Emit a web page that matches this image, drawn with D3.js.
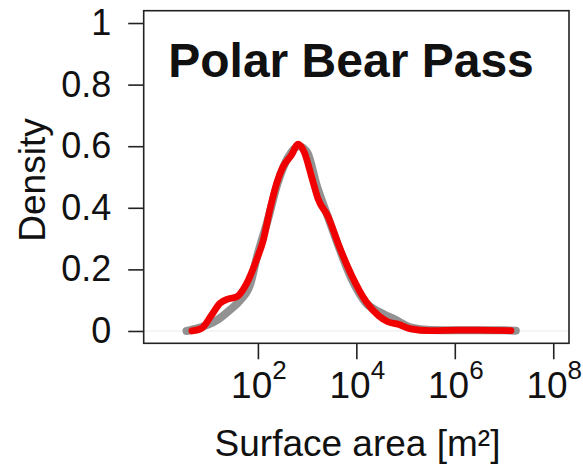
<!DOCTYPE html>
<html>
<head>
<meta charset="utf-8">
<script src="https://cdn.jsdelivr.net/npm/d3@7"></script>
<style>
  html, body { margin: 0; padding: 0; background: #fff; }
  svg { display: block; }
  text { font-family: "Liberation Sans", Arial, Helvetica, sans-serif; fill: #111; }
</style>
</head>
<body>
<svg id="chart" width="583" height="466"></svg>
<script>
// Kernel density of surface area (log10 m²), observed vs. modelled
const observedLogArea = [0.66, 0.86, 1.06, 1.23, 1.40, 1.57, 1.77, 1.97, 2.11, 2.24, 2.38, 2.51, 2.68, 2.82, 2.95, 3.09, 3.22, 3.43, 3.65, 3.90, 4.20, 4.45, 4.64, 4.85, 5.10, 5.50, 6.03, 6.50, 7.14];
const observedDensity = [0.000, 0.009, 0.052, 0.090, 0.104, 0.111, 0.154, 0.230, 0.295, 0.392, 0.479, 0.533, 0.571, 0.607, 0.577, 0.501, 0.430, 0.370, 0.275, 0.182, 0.095, 0.050, 0.030, 0.022, 0.007, 0.001, 0.003, 0.003, 0.001];

const modelLogArea = [0.55, 0.80, 1.17, 1.43, 1.64, 1.84, 1.98, 2.20, 2.40, 2.60, 2.83, 3.00, 3.20, 3.40, 3.65, 3.90, 4.20, 4.47, 4.80, 5.10, 5.50, 6.00, 6.50, 7.00, 7.24];
const modelDensity = [0.000, 0.010, 0.035, 0.068, 0.100, 0.150, 0.240, 0.360, 0.480, 0.560, 0.600, 0.580, 0.470, 0.380, 0.270, 0.170, 0.090, 0.062, 0.036, 0.012, 0.003, 0.002, 0.002, 0.002, 0.001];

const xTickExponents = [2, 4, 6, 8];
const yTickValues = [0, 0.2, 0.4, 0.6, 0.8, 1];
const yTickLabels = ["0", "0.2", "0.4", "0.6", "0.8", "1"];

const titleText = "Polar Bear Pass";
const yTitle = "Density";

const svg = d3.select("#chart");
const box = { left: 143.7, right: 569, top: 10.7, bottom: 343.3 };

// xlim 1..1e8 and ylim 0..1, each padded by 4%
const xPad = 0.04 * 8;
const x = d3.scaleLog()
  .domain([Math.pow(10, 0 - xPad), Math.pow(10, 8 + xPad)])
  .range([box.left, box.right]);
const y = d3.scaleLinear()
  .domain([-0.04, 1.04])
  .range([box.bottom, box.top]);

// faint zero reference
svg.append("line")
  .attr("x1", box.left).attr("x2", box.right)
  .attr("y1", y(0)).attr("y2", y(0))
  .attr("stroke", "#ececec").attr("stroke-width", 1.2);

const line = d3.line()
  .x(d => x(Math.pow(10, d[0])))
  .y(d => y(d[1]))
  .curve(d3.curveMonotoneX);

const modelPts = d3.zip(modelLogArea, modelDensity);
const obsPts = d3.zip(observedLogArea, observedDensity);

svg.append("path")
  .attr("d", line(modelPts))
  .attr("fill", "none")
  .attr("stroke", "#7f7f7f")
  .attr("stroke-opacity", 0.85)
  .attr("stroke-width", 8)
  .attr("stroke-linecap", "round")
  .attr("stroke-linejoin", "round");

svg.append("path")
  .attr("d", line(obsPts))
  .attr("fill", "none")
  .attr("stroke", "#f00000")
  .attr("stroke-width", 6.8)
  .attr("stroke-linecap", "round")
  .attr("stroke-linejoin", "round");

// plot frame
svg.append("rect")
  .attr("x", box.left).attr("y", box.top)
  .attr("width", box.right - box.left).attr("height", box.bottom - box.top)
  .attr("fill", "none").attr("stroke", "#222").attr("stroke-width", 1.6);

// y axis
const yAxis = d3.axisLeft(y)
  .tickValues(yTickValues)
  .tickSize(15.5)
  .tickPadding(17)
  .tickFormat((d, i) => yTickLabels[i]);
const gy = svg.append("g")
  .attr("transform", `translate(${box.left},0)`)
  .call(yAxis);
gy.select(".domain").remove();
gy.selectAll(".tick line").attr("stroke", "#222").attr("stroke-width", 1.6);
gy.selectAll(".tick text")
  .attr("font-size", 36)
  .attr("fill", "#111")
  .style("font-family", '"Liberation Sans", Arial, sans-serif');

// x axis
const xAxis = d3.axisBottom(x)
  .tickValues(xTickExponents.map(e => Math.pow(10, e)))
  .tickSize(16)
  .tickFormat("");
const gx = svg.append("g")
  .attr("transform", `translate(0,${box.bottom})`)
  .call(xAxis);
gx.select(".domain").remove();
gx.selectAll(".tick line").attr("stroke", "#222").attr("stroke-width", 1.6);

const xl = svg.append("g").selectAll("text")
  .data(xTickExponents)
  .join("text")
  .attr("x", d => x(Math.pow(10, d)) + 1)
  .attr("y", 398)
  .attr("text-anchor", "middle")
  .attr("font-size", 37);
xl.append("tspan").text("10");
xl.append("tspan")
  .attr("dy", -19)
  .attr("font-size", 26)
  .text(d => String(d));

// titles
svg.append("text")
  .attr("x", 351)
  .attr("y", 77)
  .attr("text-anchor", "middle")
  .attr("font-size", 48)
  .attr("font-weight", "bold")
  .text(titleText);

svg.append("text")
  .attr("transform", "translate(45,180) rotate(-90)")
  .attr("text-anchor", "middle")
  .attr("font-size", 37)
  .text(yTitle);

const xt = svg.append("text")
  .attr("x", 357.5)
  .attr("y", 456)
  .attr("text-anchor", "middle")
  .attr("font-size", 37);
xt.append("tspan").text("Surface area [m²]");
</script>
</body>
</html>
